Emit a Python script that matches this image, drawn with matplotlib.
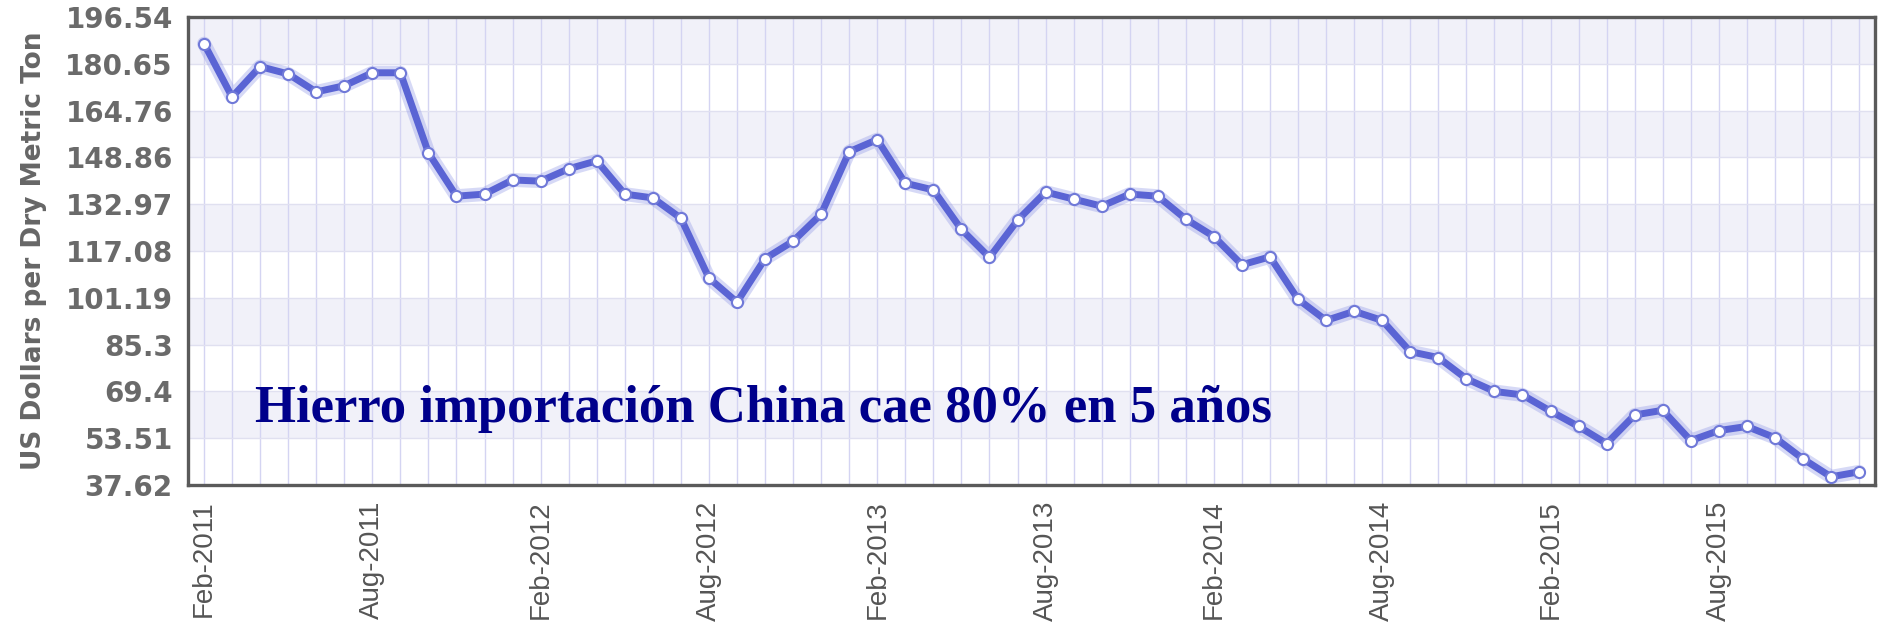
import matplotlib
matplotlib.use("Agg")
import matplotlib.pyplot as plt

# monthly iron ore price, Feb-2011 .. Jan-2016
prices = [
    187.5, 169.4, 179.7, 177.2, 171.1, 173.2, 177.6, 177.6, 150.4, 135.7,
    136.4, 141.2, 140.8, 145.0, 147.7, 136.4, 135.1, 128.2, 107.9, 99.7,
    114.5, 120.4, 129.6, 150.8, 154.9, 140.1, 137.8, 124.4, 114.9, 127.5,
    137.1, 134.7, 132.3, 136.4, 135.7, 127.9, 122.0, 112.4, 115.1, 100.7,
    93.5, 96.6, 93.5, 82.9, 80.9, 73.7, 69.4, 68.2, 62.7, 57.5,
    51.7, 61.4, 63.0, 52.7, 56.1, 57.5, 53.7, 46.5, 40.4, 42.1,
]
x_labels = ["Feb-2011", "Aug-2011", "Feb-2012", "Aug-2012", "Feb-2013",
            "Aug-2013", "Feb-2014", "Aug-2014", "Feb-2015", "Aug-2015"]
y_ticks = [37.62, 53.51, 69.4, 85.3, 101.19, 117.08, 132.97, 148.86,
           164.76, 180.65, 196.54]
note = "Hierro importación China cae 80% en 5 años"

months = list(range(len(prices)))

fig = plt.figure(figsize=(18.86, 6.34), dpi=100)
ax = fig.add_axes([0.0997, 0.235, 0.8945, 0.7382])

# alternating bands
for i in range(len(y_ticks) - 1):
    color = "#f1f1f9" if i % 2 == 1 else "white"
    ax.axhspan(y_ticks[i], y_ticks[i + 1], color=color, zorder=0, lw=0)

for m in months:
    ax.axvline(m, color="#d4d4f2", lw=1, zorder=1)
for t in y_ticks:
    ax.axhline(t, color="#e0e0f0", lw=1, zorder=1)

ax.plot(months, prices, color="#8b93e6", lw=10, alpha=0.35,
        solid_capstyle="round", zorder=2)
ax.plot(months, prices, color="#5a64d4", lw=5, marker="o",
        markersize=8, markerfacecolor="white", markeredgecolor="#7079d8",
        markeredgewidth=1.5, solid_joinstyle="round", zorder=3)

ax.set_xlim(-0.57, len(prices) - 1 + 0.57)
ax.set_ylim(y_ticks[0], y_ticks[-1])

ax.set_xticks(months[::6])
ax.set_xticklabels(x_labels, rotation=90, ha="center", va="top",
                   family="Liberation Sans", fontsize=20, color="#555555")
ax.set_yticks(y_ticks)
ax.set_yticklabels([f"{t:g}" for t in y_ticks], fontsize=20,
                   fontweight="bold", color="#6a6a6a")
ax.tick_params(length=0, pad=11)

for s in ax.spines.values():
    s.set_color("#5a5a5a")
    s.set_linewidth(2.4)

fig.text(34 / 1886, 1 - 251 / 634, "US Dollars per Dry Metric Ton",
         rotation=90, ha="center", va="center", fontsize=19,
         fontweight="bold", color="#666666")

ax.text(0.0397, 0.1346, note, transform=ax.transAxes, ha="left",
        va="baseline", family="Liberation Serif", fontweight="bold",
        fontsize=38, color="#00008b", zorder=4)

fig.savefig("out.png", dpi=100)
plt.close(fig)
